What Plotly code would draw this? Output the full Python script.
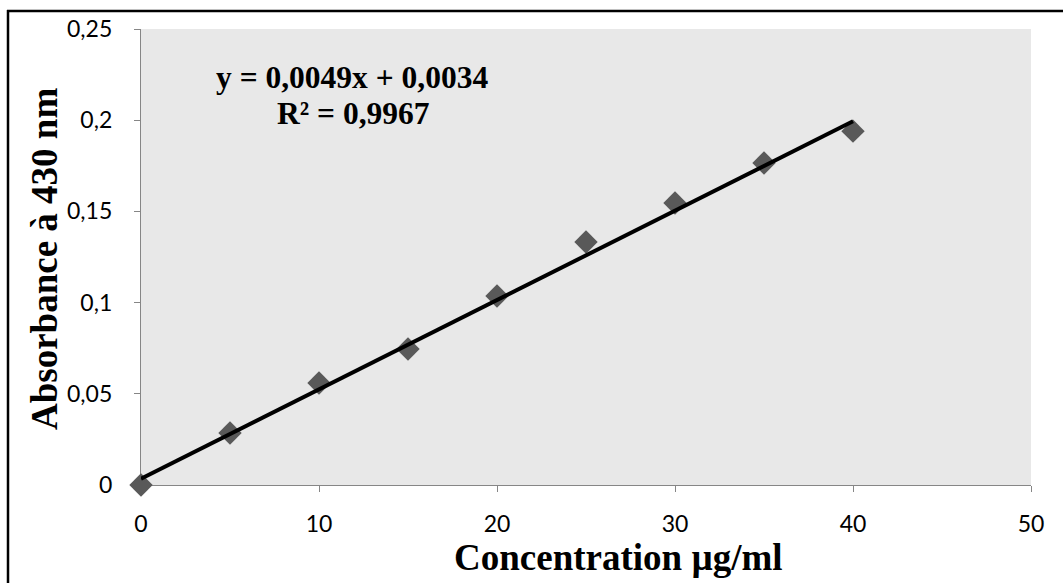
import plotly.graph_objects as go

# Data
concentration = [0, 5, 10, 15, 20, 25, 30, 35, 40]
absorbance = [0.0, 0.0285, 0.0559, 0.0746, 0.1036, 0.1332, 0.1546, 0.1765, 0.194]
slope = 0.0049
intercept = 0.0034
fit_x = [0, 40]
x_ticks = [0, 10, 20, 30, 40, 50]
y_ticks = [0, 0.05, 0.1, 0.15, 0.2, 0.25]
y_tick_labels = ["0", "0,05", "0,1", "0,15", "0,2", "0,25"]
equation_text = "y = 0,0049x + 0,0034"
r2_text = "R² = 0,9967"
x_title = "Concentration µg/ml"
y_title = "Absorbance à 430 nm"

W, H = 1063, 583
L, R, T, B = 141, 32, 29, 98


def px(xp):
    return (xp - L) / (W - L - R)


def py(yp):
    return 1 - (yp - T) / (H - T - B)


fig = go.Figure()
fig.add_trace(go.Scatter(
    x=concentration, y=absorbance, mode="markers",
    marker=dict(symbol="diamond", size=18, color="#595959"),
    showlegend=False, cliponaxis=False))
fig.add_trace(go.Scatter(
    x=fit_x, y=[slope * v + intercept for v in fit_x],
    mode="lines", line=dict(color="black", width=4),
    showlegend=False, hoverinfo="skip", cliponaxis=False))

tick_font = dict(family="Lato, 'Open Sans', sans-serif", size=23, color="black")
fig.update_xaxes(range=[0, 50], tickvals=x_ticks, ticks="outside", ticklen=6,
                 tickcolor="#868686", showline=True, linecolor="#868686", linewidth=1.3,
                 showgrid=False, zeroline=False, tickfont=tick_font,
                 ticklabelstandoff=12, layer="below traces")
fig.update_yaxes(range=[0, 0.25], tickvals=y_ticks, ticktext=y_tick_labels,
                 ticks="outside", ticklen=6, tickcolor="#868686", showline=True,
                 linecolor="#868686", linewidth=1.3, showgrid=False, zeroline=False,
                 tickfont=tick_font, ticklabelstandoff=17, layer="below traces")

serif = "'Liberation Serif', 'Times New Roman', serif"
common = dict(xref="paper", yref="paper", showarrow=False, xanchor="center", yanchor="middle")
ann = [
    dict(text="<b>" + equation_text + "</b>", x=px(352), y=py(77),
         font=dict(family=serif, size=31.5, color="black"), **common),
    dict(text="<b>" + r2_text + "</b>", x=px(353), y=py(113),
         font=dict(family=serif, size=31.5, color="black"), **common),
    dict(text="<b>" + x_title + "</b>", x=px(618), y=py(557),
         font=dict(family=serif, size=37, color="black"), **common),
    dict(text="<b>" + y_title + "</b>", x=px(44), y=py(259), textangle=-90,
         font=dict(family=serif, size=37, color="black"), **common),
]

shapes = [
    dict(type="line", xref="paper", yref="paper", x0=px(8), x1=px(8), y0=py(10), y1=py(590),
         line=dict(color="black", width=2.5)),
    dict(type="line", xref="paper", yref="paper", x0=px(7), x1=px(1070), y0=py(11), y1=py(11),
         line=dict(color="black", width=2.5)),
]

fig.update_layout(
    width=W, height=H, margin=dict(l=L, r=R, t=T, b=B),
    paper_bgcolor="white", plot_bgcolor="#e8e8e8",
    annotations=ann, shapes=shapes, showlegend=False,
)
fig.write_html("out.html", config={"displayModeBar": False},
               post_script="document.body.style.margin='0';document.body.style.overflow='hidden';")
